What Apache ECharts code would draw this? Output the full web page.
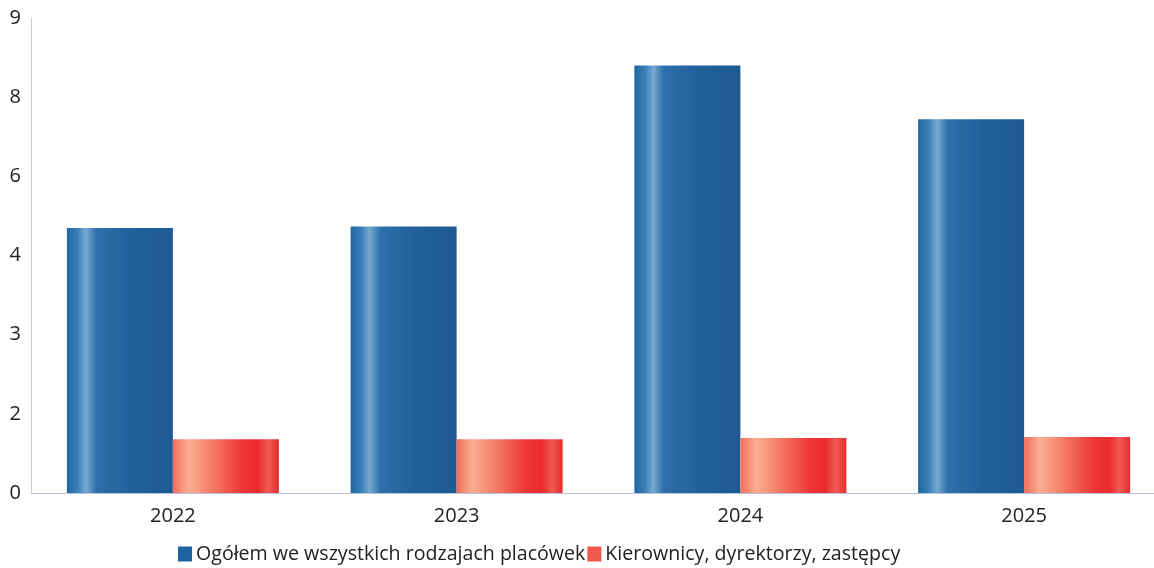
<!DOCTYPE html>
<html>
<head>
<meta charset="utf-8">
<script src="https://cdn.jsdelivr.net/npm/echarts@6/dist/echarts.min.js"></script>
<style>html,body{margin:0;padding:0;background:#fff}#c{width:1154px;height:568px}</style>
</head>
<body>
<div id="c"></div>
<script>
const categories = ['2022', '2023', '2024', '2025'];
const seriesNames = ['Ogółem we wszystkich rodzajach placówek', 'Kierownicy, dyrektorzy, zastępcy'];
const totalValues = [5.02, 5.05, 8.1, 7.08];
const managerValues = [1.02, 1.02, 1.04, 1.06];
const yTickLabels = ['0', '2', '3', '4', '6', '8', '9'];

const blueGrad = new echarts.graphic.LinearGradient(0, 0, 1, 0, [
  {offset: 0, color: '#1f67a3'},
  {offset: 0.1, color: '#3a7fb7'},
  {offset: 0.18, color: '#78a9d0'},
  {offset: 0.28, color: '#2d70ab'},
  {offset: 0.6, color: '#22609c'},
  {offset: 1, color: '#1d5a95'}
]);
const redGrad = new echarts.graphic.LinearGradient(0, 0, 1, 0, [
  {offset: 0, color: '#f26d58'},
  {offset: 0.15, color: '#fbae95'},
  {offset: 0.35, color: '#f58068'},
  {offset: 0.65, color: '#ee3737'},
  {offset: 0.8, color: '#e92a2c'},
  {offset: 0.9, color: '#f25a52'},
  {offset: 1, color: '#e52d30'}
]);

const chart = echarts.init(document.getElementById('c'));
chart.setOption({
  animation: false,
  textStyle: {fontFamily: 'Open Sans'},
  grid: {left: 31, top: 18, bottom: 75, width: 1135, outerBoundsMode: 'none', containLabel: false},
  legend: {
    top: 539,
    left: 173,
    itemWidth: 14,
    itemHeight: 15,
    itemGap: 2,
    icon: 'rect',
    textStyle: {fontSize: 19.6, color: '#222', fontFamily: 'Open Sans', padding: [0, 0, 0, -1]},
    data: [
      {name: seriesNames[0], itemStyle: {color: '#1f62a0'}},
      {name: seriesNames[1], itemStyle: {color: '#f0584c'}}
    ]
  },
  xAxis: {
    type: 'category',
    data: categories,
    axisLine: {lineStyle: {color: '#b8c0dc'}},
    axisTick: {show: false},
    axisLabel: {fontSize: 20, color: '#222', margin: 13}
  },
  yAxis: {
    type: 'value',
    min: 0,
    max: 9,
    interval: 1.5,
    axisLine: {show: true, lineStyle: {color: '#c8cfe4'}},
    axisTick: {show: false},
    splitLine: {show: false},
    axisLabel: {
      fontSize: 20, color: '#222', margin: 10,
      formatter: function (v) { return yTickLabels[Math.round(v / 1.5)]; }
    }
  },
  series: [
    {name: seriesNames[0], type: 'bar', data: totalValues, barWidth: 106, barGap: '0%',
     itemStyle: {color: blueGrad}},
    {name: seriesNames[1], type: 'bar', data: managerValues, barWidth: 106, barGap: '0%',
     itemStyle: {color: redGrad}}
  ]
});
</script>
</body>
</html>
